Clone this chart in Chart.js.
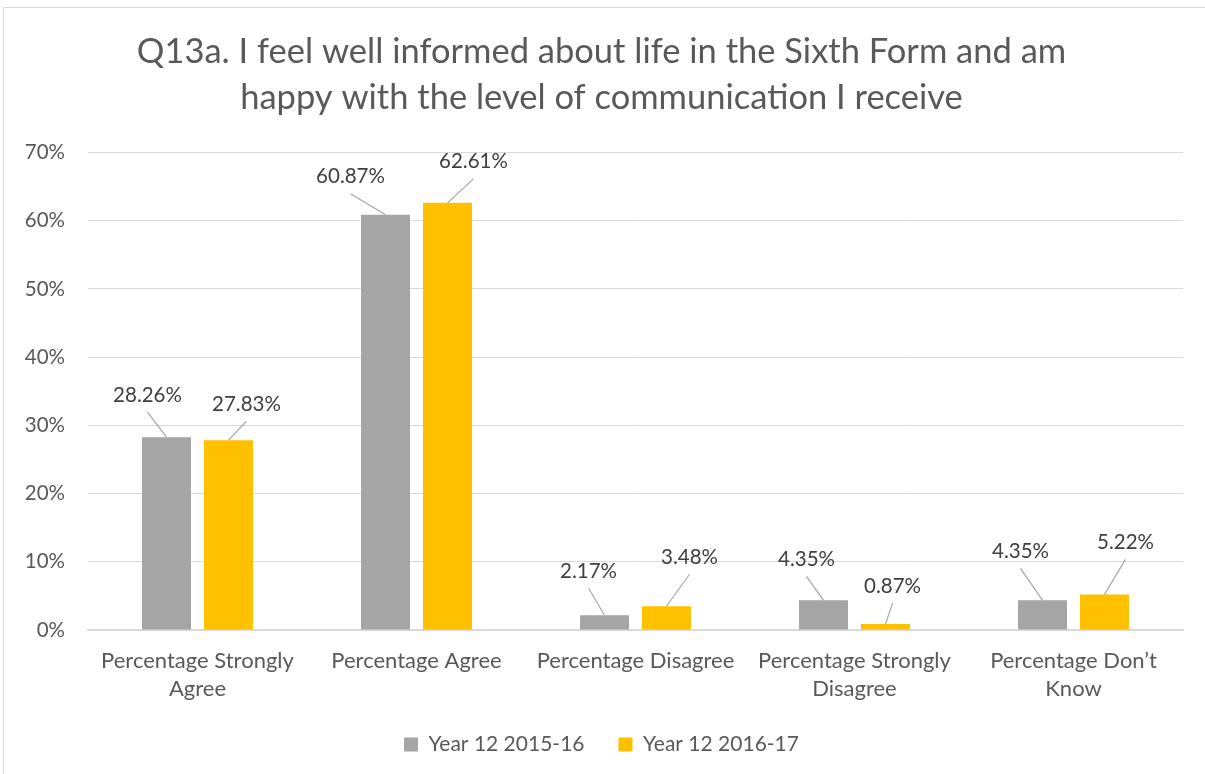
<!DOCTYPE html>
<html>
<head>
<meta charset="utf-8">
<script src="https://cdn.jsdelivr.net/npm/chart.js@4"></script>
<style>
  html, body { margin: 0; padding: 0; background: #fff; }
  #wrap { width: 1205px; height: 774px; position: relative; }
</style>
</head>
<body>
<div id="wrap"><canvas id="c"></canvas></div>
<script>
const categories = [
  ['Percentage Strongly', 'Agree'],
  'Percentage Agree',
  'Percentage Disagree',
  ['Percentage Strongly', 'Disagree'],
  ['Percentage Don\u2019t', 'Know']
];
const seriesNames = ['Year 12 2015-16', 'Year 12 2016-17'];
const values2015 = [28.26, 60.87, 2.17, 4.35, 4.35];
const values2016 = [27.83, 62.61, 3.48, 0.87, 5.22];
const yTicks = [0, 10, 20, 30, 40, 50, 60, 70];
const titleLines = ['Q13a. I feel well informed about life in the Sixth Form and am', 'happy with the level of communication I receive'];

const FONT = 'Lato, "Open Sans", sans-serif';
const TEXT = '#595959';

// label offsets relative to bar top (layout, not data)
const labelOffsets = [
  [[-19, -42], [-35, -38], [-16, -44], [-17, -41], [-22, -49]],
  [[18, -36], [26, -41], [23, -49], [7, -38], [21, -52]]
];

const calloutPlugin = {
  id: 'callouts',
  afterDatasetsDraw(chart) {
    const ctx = chart.ctx;
    ctx.save();
    chart.data.datasets.forEach((ds, di) => {
      const meta = chart.getDatasetMeta(di);
      meta.data.forEach((bar, i) => {
        const off = labelOffsets[di][i];
        const lx = bar.x + off[0];
        const ly = bar.y + off[1];
        ctx.strokeStyle = '#a6a6a6';
        ctx.lineWidth = 1.2;
        ctx.beginPath();
        ctx.moveTo(lx, ly + 17);
        ctx.lineTo(bar.x, bar.y);
        ctx.stroke();
        ctx.fillStyle = '#404040';
        ctx.font = '20.5px ' + FONT;
        ctx.textAlign = 'center';
        ctx.textBaseline = 'middle';
        ctx.fillText(ds.data[i].toFixed(2) + '%', lx, ly);
      });
    });
    ctx.restore();
  }
};

const framePlugin = {
  id: 'frame',
  beforeDraw(chart) {
    const ctx = chart.ctx;
    ctx.save();
    ctx.fillStyle = '#fff';
    ctx.fillRect(0, 0, chart.width, chart.height);
    ctx.strokeStyle = '#d9d9d9';
    ctx.lineWidth = 1;
    ctx.strokeRect(3.5, 7.5, chart.width + 20, chart.height + 20);
    ctx.restore();
  }
};

new Chart(document.getElementById('c'), {
  type: 'bar',
  data: {
    labels: categories,
    datasets: [
      { label: seriesNames[0], data: values2015, backgroundColor: '#A5A5A5', categoryPercentage: 0.566, barPercentage: 0.79 },
      { label: seriesNames[1], data: values2016, backgroundColor: '#FFC000', categoryPercentage: 0.566, barPercentage: 0.79 }
    ]
  },
  options: {
    responsive: true,
    maintainAspectRatio: false,
    animation: false,
    layout: { padding: { left: 20, right: 22, top: 0, bottom: 9 } },
    plugins: {
      title: {
        display: true,
        text: titleLines,
        color: TEXT,
        font: { family: FONT, size: 34.5, weight: 'normal', lineHeight: 1.34 },
        padding: { top: 29, bottom: 31 }
      },
      legend: {
        position: 'bottom',
        labels: {
          color: TEXT,
          font: { family: FONT, size: 21 },
          boxWidth: 14,
          boxHeight: 14,
          padding: 34
        }
      },
      tooltip: { enabled: false }
    },
    scales: {
      x: {
        grid: { display: false, drawTicks: false },
        border: { display: true, color: '#d9d9d9', width: 2 },
        ticks: { color: TEXT, font: { family: FONT, size: 22, lineHeight: 1.27 }, padding: 17, maxRotation: 0, autoSkip: false },
        afterFit(scale) {
          scale.height = 70;
          scale._computeLabelArea = () => undefined;
        }
      },
      y: {
        min: 0,
        max: 70,
        afterBuildTicks(scale) { scale.ticks = yTicks.map(v => ({ value: v })); },
        grid: { color: '#d9d9d9', drawTicks: false },
        border: { display: false },
        ticks: { color: TEXT, font: { family: FONT, size: 20.5 }, padding: 23, callback: v => v + '%' },
        afterFit(scale) { scale.width = 68; }
      }
    }
  },
  plugins: [framePlugin, calloutPlugin]
});
</script>
</body>
</html>
